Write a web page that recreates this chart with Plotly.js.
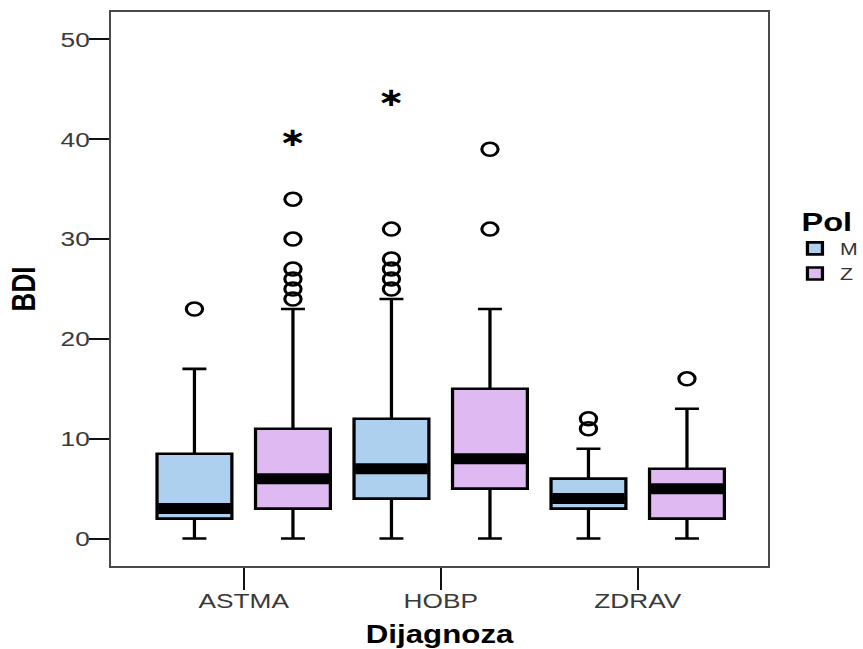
<!DOCTYPE html>
<html>
<head>
<meta charset="utf-8">
<script src="https://cdn.plot.ly/plotly-3.0.1.min.js"></script>
<style>
  html, body { margin: 0; padding: 0; background: #ffffff; overflow: hidden; }
  #wrap { width: 760px; height: 649px; transform: scaleX(1.2507); transform-origin: 0 0; }
</style>
</head>
<body>
<div id="wrap"><div id="chart"></div></div>
<script>
// Diagnosis groups on the x axis, sex groups as side-by-side boxes
const categories = ['ASTMA', 'HOBP', 'ZDRAV'];
const sexes = ['M', 'Z'];

// Box statistics for BDI, sex M
const lowM = [0, 0, 0];
const q1M = [2, 4, 3];
const medM = [3, 7, 4];
const q3M = [8.5, 12, 6];
const highM = [17, 24, 9];

// Box statistics for BDI, sex Z
const lowZ = [0, 0, 0];
const q1Z = [3, 5, 2];
const medZ = [6, 8, 5];
const q3Z = [11, 15, 7];
const highZ = [23, 23, 13];

// Outliers (circles)
const outCatM = ['ASTMA', 'HOBP', 'HOBP', 'HOBP', 'HOBP', 'HOBP', 'ZDRAV', 'ZDRAV'];
const outValM = [23, 25, 26, 27, 28, 31, 11, 12];
const outCatZ = ['ASTMA', 'ASTMA', 'ASTMA', 'ASTMA', 'ASTMA', 'ASTMA', 'HOBP', 'HOBP', 'ZDRAV'];
const outValZ = [24, 25, 26, 27, 30, 34, 31, 39, 16];

// Extreme values (asterisks)
const extCatM = ['HOBP'];
const extValM = [44];
const extCatZ = ['ASTMA'];
const extValZ = [40];

const fillColors = { M: '#ADD0EE', Z: '#DFB9F1' };
const offsets = { M: -0.25, Z: 0.25 };
const boxWidth = 0.38;

const pos = (cat, sex) => categories.indexOf(cat) + offsets[sex];

const stats = {
  M: { low: lowM, q1: q1M, med: medM, q3: q3M, high: highM,
       outCat: outCatM, outVal: outValM, extCat: extCatM, extVal: extValM },
  Z: { low: lowZ, q1: q1Z, med: medZ, q3: q3Z, high: highZ,
       outCat: outCatZ, outVal: outValZ, extCat: extCatZ, extVal: extValZ }
};

const traces = [];
sexes.forEach(sex => {
  const s = stats[sex];
  const xs = categories.map(c => pos(c, sex));
  traces.push({
    type: 'box',
    orientation: 'v',
    name: sex,
    x: xs,
    lowerfence: s.low,
    q1: s.q1,
    median: s.med,
    q3: s.q3,
    upperfence: s.high,
    boxpoints: false,
    width: boxWidth,
    whiskerwidth: 0.32,
    fillcolor: fillColors[sex],
    line: { color: '#000000', width: 2.6 },
    hoverinfo: 'skip'
  });
});

// Thick median bands across each box
sexes.forEach(sex => {
  const s = stats[sex];
  const mx = [], my = [];
  categories.forEach((c, i) => {
    const p = pos(c, sex);
    mx.push(p - boxWidth / 2 + 0.006, p + boxWidth / 2 - 0.006, null);
    my.push(s.med[i], s.med[i], null);
  });
  traces.push({
    type: 'scatter', mode: 'lines', x: mx, y: my,
    line: { color: '#000000', width: 11 },
    showlegend: false, hoverinfo: 'skip'
  });
});

// Outlier circles and extreme-value asterisks
sexes.forEach(sex => {
  const s = stats[sex];
  traces.push({
    type: 'scatter', mode: 'markers',
    x: s.outCat.map(c => pos(c, sex)), y: s.outVal,
    marker: { symbol: 'circle-open', size: 13, color: '#000000', line: { width: 2.5, color: '#000000' } },
    showlegend: false, hoverinfo: 'skip'
  });
  traces.push({
    type: 'scatter', mode: 'text',
    x: s.extCat.map(c => pos(c, sex)), y: s.extVal,
    text: s.extVal.map(() => '\u2217'),
    textposition: 'middle center',
    textfont: { family: 'DejaVu Sans', size: 26, weight: 'bold', color: '#000000' },
    showlegend: false, hoverinfo: 'skip'
  });
});

const tickFont = { family: 'Liberation Sans, Arial, sans-serif', size: 21, color: '#3a3a3a' };

const layout = {
  width: 760,
  height: 649,
  margin: { l: 89, r: 146, t: 12, b: 83 },
  paper_bgcolor: '#ffffff',
  plot_bgcolor: '#ffffff',
  boxmode: 'overlay',
  showlegend: true,
  xaxis: {
    range: [-0.672, 2.661],
    tickvals: [0, 1, 2],
    ticktext: categories,
    ticks: 'outside', ticklen: 22, tickwidth: 1.6, tickcolor: '#111111',
    tickfont: tickFont,
    ticklabelstandoff: -7,
    showline: true, mirror: true, linecolor: '#4a4a4a', linewidth: 2,
    showgrid: false, zeroline: false,
    title: { text: 'Dijagnoza', standoff: 14,
             font: { family: 'Liberation Sans, Arial, sans-serif', size: 25, weight: 'bold', color: '#000000' } }
  },
  yaxis: {
    range: [-2.75, 52.75],
    tickvals: [0, 10, 20, 30, 40, 50],
    ticks: 'outside', ticklen: 16, tickwidth: 2, tickcolor: '#111111',
    tickfont: tickFont,
    ticklabelstandoff: -5,
    showline: true, mirror: true, linecolor: '#4a4a4a', linewidth: 2,
    showgrid: false, zeroline: false,
    title: { text: 'BDI', standoff: 12,
             font: { family: 'Liberation Sans, Arial, sans-serif', size: 26, weight: 'bold', color: '#000000' } }
  },
  legend: {
    x: 1.0335, xanchor: 'left',
    y: 0.666, yanchor: 'top',
    bgcolor: 'rgba(0,0,0,0)',
    font: { family: 'Liberation Sans, Arial, sans-serif', size: 17, color: '#333333' },
    title: { text: '\u00a0Pol', font: { family: 'Liberation Sans, Arial, sans-serif', size: 26, weight: 'bold', color: '#000000' } },
    itemclick: false, itemdoubleclick: false
  }
};

Plotly.newPlot('chart', traces, layout, { displayModeBar: false, staticPlot: true });
</script>
</body>
</html>
